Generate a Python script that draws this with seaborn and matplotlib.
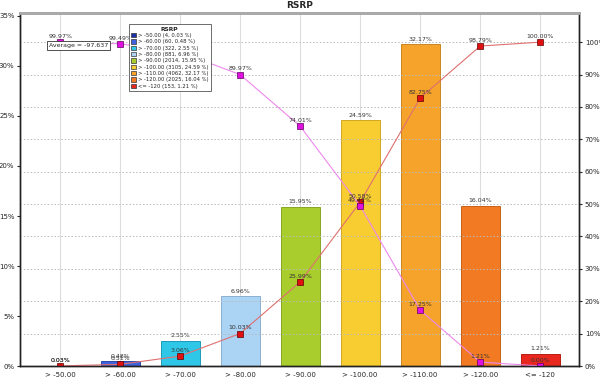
import numpy as np
import pandas as pd
import seaborn as sns
import matplotlib.pyplot as plt
from matplotlib.patches import Patch

categories = ['> -50.00', '> -60.00', '> -70.00', '> -80.00', '> -90.00',
              '> -100.00', '> -110.00', '> -120.00', '<= -120']
counts = [4, 60, 322, 881, 2014, 3105, 4062, 2025, 153]
pdf = [0.03, 0.48, 2.55, 6.96, 15.95, 24.59, 32.17, 16.04, 1.21]
cdf_up = [0.03, 0.51, 3.06, 10.03, 25.99, 50.58, 82.75, 98.79, 100.00]
cdf_down = [99.97, 99.49, 96.94, 89.97, 74.01, 49.42, 17.25, 1.21, 0.00]
colors = ['#1c2fa8', '#3f63dc', '#2ec7e8', '#aad3f4', '#a8cd2c',
          '#f8cd32', '#f5a32a', '#f27a22', '#e8281e']
edges = ['#10207a', '#2a48b0', '#1e9ab8', '#8ab0d0', '#86a820',
         '#d0a820', '#c8861e', '#c86018', '#b81e14']
average = -97.637

df = pd.DataFrame({'cat': categories, 'pdf': pdf, 'pos': np.arange(len(categories))})

sns.set_style('white')
plt.rcParams['font.family'] = ['DejaVu Sans']

fig = plt.figure(figsize=(6, 3.79), dpi=100)
ax = fig.add_axes([0.0333, 0.0343, 0.932, 0.9314])

sns.barplot(data=df, x='cat', y='pdf', hue='cat', palette=colors, order=categories,
            width=0.65, saturation=1, linewidth=0.7, legend=False, ax=ax)
for patch, ec in zip(ax.patches, edges):
    patch.set_edgecolor(ec)
ax.set_xlim(-0.67, 8.65)
ax.set_ylim(0, 35.3)
ax.set_yticks(range(0, 36, 5))
ax.set_yticklabels([f'{v}%' for v in range(0, 36, 5)])
ax.set_xlabel('')
ax.set_ylabel('PDF (%)', fontsize=5, labelpad=-1)
ax.tick_params(axis='both', labelsize=5, length=2, pad=2)
ax.set_axisbelow(True)
ax.grid(axis='x', color='#dddddd', linewidth=0.8)

for i, v in enumerate(pdf):
    ax.text(i, v + 0.25, f'{v:.2f}%', ha='center', va='bottom', fontsize=4.5, color='#333333')

ax2 = ax.twinx()
sns.lineplot(x=df['pos'], y=cdf_up, ax=ax2, color='#e07070', linewidth=0.8,
             marker='s', markersize=4, markerfacecolor='#e01010', markeredgecolor='#600000',
             markeredgewidth=0.5)
sns.lineplot(x=df['pos'], y=cdf_down, ax=ax2, color='#ee88ee', linewidth=0.8,
             marker='s', markersize=4, markerfacecolor='#e010e0', markeredgecolor='#600060',
             markeredgewidth=0.5)
ax2.set_ylim(0, 109)
ax2.set_yticks(range(0, 101, 10))
ax2.set_yticklabels([f'{v}%' for v in range(0, 101, 10)])
ax2.set_ylabel('CDF (%)', fontsize=5, rotation=270, labelpad=6)
ax2.tick_params(axis='y', labelsize=5, length=2, pad=2)
ax2.grid(axis='y', color='#bbbbbb', linestyle=(0, (1.5, 2)), linewidth=0.7)
ax2.set_xlim(-0.67, 8.65)

for i in range(len(categories)):
    ax2.text(i, cdf_up[i] + 1, f'{cdf_up[i]:.2f}%', ha='center', va='bottom', fontsize=4.5, color='#333333')
    ax2.text(i, cdf_down[i] + 1, f'{cdf_down[i]:.2f}%', ha='center', va='bottom', fontsize=4.5, color='#333333')

for a in (ax, ax2):
    for s in a.spines.values():
        s.set_color('#222222')
        s.set_linewidth(1.0)
    a.spines['top'].set_color('#aaaaaa')
    a.spines['top'].set_linewidth(2)

ax2.text(0.052, 0.915, f'Average = {average}', transform=ax2.transAxes, fontsize=4.5,
         va='top', ha='left', zorder=10,
         bbox=dict(boxstyle='square,pad=0.3', facecolor='white', edgecolor='#333333', linewidth=0.6))

handles = [Patch(facecolor=c, edgecolor='#333333', linewidth=0.5) for c in colors]
labels = [f'{c} ({n}, {p:.2f} %)' for c, n, p in zip(categories, counts, pdf)]
leg = ax2.legend(handles, labels, title='RSRP', fontsize=3.8, title_fontsize=4.3,
                 loc='upper left', bbox_to_anchor=(0.19, 0.975), frameon=True, fancybox=False,
                 framealpha=1, edgecolor='#555555', handlelength=0.9, handleheight=0.9,
                 handletextpad=0.4, labelspacing=0.25, borderpad=0.4)
leg.set_zorder(20)
leg.get_frame().set_linewidth(0.6)
leg.get_title().set_fontweight('bold')

fig.suptitle('RSRP', fontsize=6.5, fontweight='bold', y=0.998)

fig.savefig('out.png', dpi=100)
